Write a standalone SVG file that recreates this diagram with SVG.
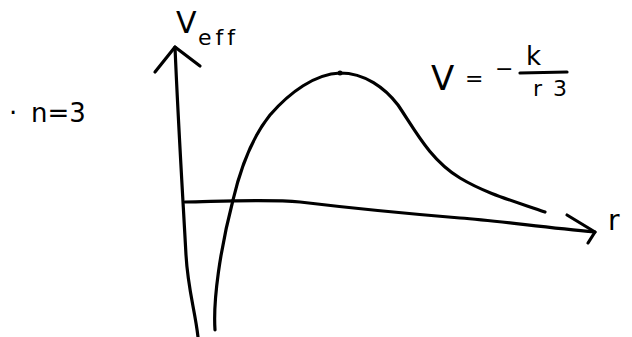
<svg xmlns="http://www.w3.org/2000/svg" width="632" height="337" viewBox="0 0 632 337">
<style>
.ink{fill:none;stroke:#000;stroke-width:3.2;stroke-linecap:round;stroke-linejoin:round}
.t{font-family:"DejaVu Sans","Liberation Sans",sans-serif;fill:#000;font-variant-ligatures:none}
</style>
<rect width="632" height="337" fill="#fff"/>
<g id="axes">
<path class="ink" d="M175,47 C178,120 183,200 186,255 C188,290 195,310 198,337"/>
<path class="ink" d="M155,72 L175,47 L200,66"/>
<path class="ink" d="M185,202 C230,201 270,199 300,202 C350,208 400,213 460,218 C500,221 540,227 595,232"/>
<path class="ink" d="M567,215 L595,232 L588,243"/>
</g>
<g id="curve">
<path class="ink" d="M215,330 C213,300 220,250 233,200 C240,170 250,140 270,115 C290,92 315,74 340,73 C365,73 385,88 398,105 C415,130 430,160 460,178 C485,193 510,200 545,212"/>
<circle cx="340" cy="73" r="2.5" fill="#000"/>
</g>
<g id="labels">
<text class="t" x="176" y="33" font-size="30">V</text>
<text class="t" x="198" y="45" font-size="22" letter-spacing="4">eff</text>
<text class="t" x="9" y="122" font-size="26">·<tspan x="31">n=3</tspan></text>
<text class="t" x="431" y="90" font-size="34">V</text>
<text class="t" x="465" y="86" font-size="22">=</text>
<text class="t" x="495" y="76" font-size="22">−</text>
<text class="t" x="526" y="65" font-size="26">k</text>
<line class="ink" x1="520" y1="73" x2="567" y2="72"/>
<text class="t" x="533" y="96" font-size="22" letter-spacing="11">r3</text>
<text class="t" x="608" y="230" font-size="28">r</text>
</g>
</svg>
